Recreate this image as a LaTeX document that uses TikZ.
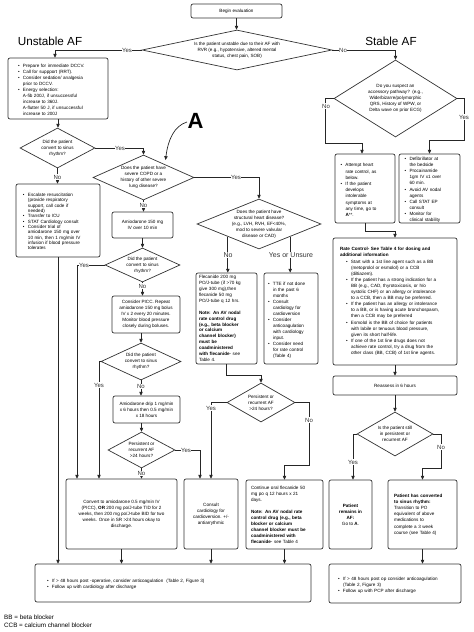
\documentclass[tikz,border=0pt]{standalone}
\usepackage{fontspec}
\setmainfont{Liberation Sans}
\usetikzlibrary{shapes.geometric,arrows.meta}
\newcommand{\fs}{\fontsize{4.6}{6.0}\selectfont}
\newcommand{\bitem}[1]{\par\hangindent=5pt\hangafter=1\noindent\hbox to 5pt{\textbullet\hfil}#1\par}
\newcommand{\bitemx}[1]{\par\leftskip=6pt\hangindent=5pt\hangafter=1\noindent\hbox to 5pt{\textbullet\hfil}#1\par}
\begin{document}
\begin{tikzpicture}[x=1pt,y=-1pt,
  box/.style={draw=black!80, line width=0.7pt, rounded corners=2pt, fill=white, inner sep=0pt, font=\fs, align=center},
  lbox/.style={box, align=left},
  dia/.style={draw=black!80, line width=0.7pt, shape=diamond, inner sep=0pt, fill=white},
  dtxt/.style={font=\fs, align=center, inner sep=0pt},
  arr/.style={draw=black!85, line width=0.7pt, -{Triangle[length=3.8pt,width=3.4pt]}},
  lbl/.style={font=\fontsize{6}{7}\selectfont, fill=white, inner sep=0.6pt, text=black!80},
  lblb/.style={font=\fontsize{7}{8}\selectfont, fill=white, inner sep=0.6pt, text=black!80},
  ttl/.style={font=\fontsize{11.7}{14}\selectfont, inner sep=0pt}
]
\useasboundingbox (0,0) rectangle (474,632);

% titles
\node[ttl] (tU) at (50,41.5) {Unstable AF};
\node[ttl] (tS) at (391,41.5) {Stable AF};
\node[font=\fontsize{22}{24}\selectfont\bfseries, inner sep=0pt] (A) at (195.5,120.5) {A};

% top
\node[box, minimum width=91, minimum height=14] (begin) at (236.5,11) {Begin evaluation};
\node[dia, minimum width=190, minimum height=40] (d1) at (237,50) {};
\node[dtxt] (d1t) at (d1) {Is the patient unstable due to their AF with\\RVR (e.g., hypotensive, altered mental\\status, chest pain, SOB)};

% unstable column
\node[lbox, minimum width=100, minimum height=61, text width=80] (u1) at (58,88.5) {%
\bitem{Prepare for immediate DCCV.}
\bitem{Call for suppport (RRT).}
\bitem{Consider sedation/ analgesia\newline prior to DCCV.}
\bitem{Energy selection:\newline A-fib 200J, if unsuccessful\newline increase to 360J.\newline A-flutter 50 J, if unsuccessful\newline increase to 200J}};
\node[dia, minimum width=75, minimum height=40] (d2) at (57.5,148) {};
\node[dtxt] (d2t) at (d2) {Did the patient\\convert to sinus\\rhythm?};
\node[lbox, minimum width=84, minimum height=73, text width=70, font=\fontsize{4.6}{5.3}\selectfont] (u2) at (58,220.5) {%
\bitem{Escalate resuscitation\newline (provide respiratory\newline support, call code if\newline needed)}
\bitem{Transfer to ICU}
\bitem{STAT Cardiology consult}
\bitem{Consider trial of\newline amiodarone 150 mg over\newline 10 min, then 1 mg/min IV\newline infusion if blood pressure\newline tolerates}};

\node[dia, minimum width=101, minimum height=45] (d3) at (143.5,177.5) {};
\node[dtxt] (d3t) at (d3) {Does the patient have\\severe COPD or a\\history of other severe\\lung disease?};
\node[box, minimum width=61, minimum height=26] (amio1) at (142.5,225) {Amiodarone 150 mg\\IV over 10 min};
\node[dia, minimum width=75, minimum height=34] (d5) at (142.5,265) {};
\node[dtxt] (d5t) at (d5) {Did the patient\\convert to sinus\\rhythm?};
\node[box, minimum width=68, minimum height=37] (picc) at (146,314.5) {Consider PICC. Repeat\\amiodarone 150 mg bolus\\IV x 2 every 20 minutes.\\Monitor blood pressure\\closely during boluses.};
\node[dia, minimum width=80, minimum height=37] (d6) at (141,361.5) {};
\node[dtxt] (d6t) at (d6) {Did the patient\\convert to sinus\\rhythm?};
\node[box, minimum width=67, minimum height=27] (drip) at (146.5,409.5) {Amiodarone drip 1 mg/min\\x 6 hours then 0.5 mg/min\\x 18 hours};
\node[dia, minimum width=67, minimum height=36] (d7) at (141.5,450) {};
\node[dtxt] (d7t) at (d7) {Persistent or\\recurrent AF\\>24 hours?};
\node[box, minimum width=111, minimum height=70] (conv) at (121.5,514) {Convert to amiodarone 0.5 mg/min IV\\(PICC), \textbf{OR} 200 mg po/J-tube TID for 2\\weeks, then 200 mg po/J-tube BID for two\\weeks. Once in SR >24 hours okay to\\discharge.};
\node[box, minimum width=54, minimum height=70] (consult1) at (211,514) {Consult\\cardiology for\\cardioversion. +/-\\antiarrythmic};

% structural heart disease branch
\node[dia, minimum width=124, minimum height=50] (d4) at (259,224) {};
\node[dtxt] (d4t) at (d4) {Does the patient have\\structural heart disease?\\(e.g., LVH, RVH, EF<40\%,\\mod to severe valvular\\disease or CAD)};
\node[lbox, minimum width=61, minimum height=91, text width=55, font=\fontsize{4.6}{5.9}\selectfont] (flec) at (226.5,318.5) {Flecanide 200 mg\newline PO/J-tube (if >70 kg\newline give 300 mg),then\newline flecanide 50 mg\newline PO/J-tube q 12 hrs.\par\vspace{5.9pt}\textbf{Note: An AV nodal\newline rate control drug\newline (e.g., beta blocker\newline or calcium\newline channel blocker)\newline must be\newline coadministered\newline with flecanide}- see\newline Table 4.};
\node[lbox, minimum width=54, minimum height=91, text width=46, font=\fontsize{4.6}{6.0}\selectfont] (tte) at (291,318.5) {%
\bitem{TTE if not done\newline in the past 6\newline months}
\bitem{Consult\newline cardiology for\newline cardioversion}
\bitem{Consider\newline anticoagulation\newline with cardiology\newline input.}
\bitem{Consider need\newline for rate control\newline (Table 4)}};
\node[dia, minimum width=68, minimum height=39] (d8) at (261,402.5) {};
\node[dtxt] (d8t) at (d8) {Persistent or\\recurrent AF\\>24 hours?};
\node[lbox, minimum width=77, minimum height=69, text width=67, font=\fontsize{4.6}{6.0}\selectfont] (cont) at (284.5,514.5) {Continue oral flecanide 50\newline mg po q 12 hours x 21\newline days.\par\vspace{6pt}\textbf{Note: An AV nodal rate\newline control drug (e.g., beta\newline blocker or calcium\newline channel blocker must be\newline coadministered with\newline flecanide}- see Table 4};

% bottom left
\node[lbox, minimum width=276, minimum height=38, text width=252] (bl) at (173,583) {%
\bitem{If > 48 hours post -operative, consider anticoagulation\ \ (Table 2, Figure 3)}
\bitem{Follow up with cardiology after discharge}};

% stable column
\node[dia, minimum width=123, minimum height=77] (d9) at (395.5,98.5) {};
\node[dtxt] (d9t) at (d9) {Do you suspect an\\accessory pathway?\ \ (e.g.,\\Wide/bizarre/polymorphic\\QRS, History of WPW, or\\Delta wave on prior ECG)};
\node[lbox, minimum width=60, minimum height=69, text width=49, font=\fontsize{4.6}{6.2}\selectfont] (att) at (365,188.5) {%
\bitem{Attempt heart\newline rate control, as\newline below.}
\bitem{If the patient\newline develops\newline intolerable\newline symptoms at\newline any time, go to\newline \textbf{A}**.}};
\node[lbox, minimum width=61, minimum height=69, text width=50, font=\fontsize{4.6}{6.1}\selectfont] (defib) at (429.5,188.5) {%
\bitem{Defibrillator at\newline the bedside}
\bitem{Procainamide\newline 1gm IV x1 over\newline 60 min.}
\bitem{Avoid AV nodal\newline agents}
\bitem{Call STAT EP\newline consult}
\bitem{Monitor for\newline clinical stability}};
\node[lbox, minimum width=124, minimum height=127, text width=110, font=\fontsize{4.6}{6.1}\selectfont] (rate) at (395,301.5) {%
\textbf{Rate Control- See Table 4 for dosing and\newline additional information}
\bitemx{Start with a 1st line agent such as a BB\newline (metoprolol or esmolol) or a CCB\newline (diltiazem).}
\bitemx{If the patient has a strong indication for a\newline BB (e.g., CAD, thyrotoxicosis, or h/o\newline systolic CHF) or an allergy or intolerance\newline to a CCB, then a BB may be preferred.}
\bitemx{If the patient has an allergy or intolerance\newline to a BB, or is having acute bronchospasm,\newline then a CCB may be preferred}
\bitemx{Esmolol is the BB of choice for patients\newline with labile or tenuous blood pressure,\newline given its short half-life.}
\bitemx{If one of the 1st line drugs does not\newline achieve rate control, try a drug from the\newline other class (BB, CCB) of 1st line agents.}};
\node[box, minimum width=124, minimum height=19] (reas) at (395,385.5) {Reassess in 6 hours};
\node[dia, minimum width=76, minimum height=44] (d10) at (395,434) {};
\node[dtxt] (d10t) at (d10) {Is the patient still\\in persistent or\\recurrent AF};
\node[box, minimum width=43, minimum height=69] (remains) at (350.5,514.5) {\textbf{Patient}\\\textbf{remains in}\\\textbf{AF:}\\Go to \textbf{A}.};
\node[lbox, minimum width=69, minimum height=69, text width=57, font=\fontsize{4.6}{6.2}\selectfont] (conv2) at (422.5,514.5) {\textbf{Patient has converted\newline to sinus rhythm:}\newline Transition to PO\newline equivalent of above\newline medications to\newline complete a 3 week\newline course (see Table 4)};
\node[lbox, minimum width=132, minimum height=39, text width=114] (br) at (395,583.5) {%
\bitem{If > 48 hours post op consider anticoagulation\newline (Table 2, Figure 3)}
\bitem{Follow up with PCP after discharge}};

% legend
\node[font=\fontsize{6.3}{8}\selectfont, anchor=west, inner sep=0pt] (leg1) at (4,617) {BB = beta blocker};
\node[font=\fontsize{6.3}{8}\selectfont, anchor=west, inner sep=0pt] (leg2) at (4,625.5) {CCB = calcium channel blocker};

% connectors
\draw[arr] (begin.south) -- (begin.south |- d1.north);
\draw[arr] (d1.west) -| ([xshift=-3pt]u1.north);
\draw[arr] (d1.east) -| (d9.north);
\draw[arr] (u1.south) -- (u1.south |- d2.north);
\draw[arr] (d2.east) -| (d3.north);
\draw[arr] (d2.south) -- (d2.south |- u2.north);
\draw[arr] (u2.south) -- (u2.south |- bl.north);
\draw[arr] (d3.east) -| (d4.north);
\draw[arr] (d3.south) -- (d3.south |- amio1.north);
\draw[arr] (amio1.south) -- (amio1.south |- d5.north);
\draw[arr] (d5.west) -| ([xshift=-44.5pt]conv.north);
\draw[arr] (d5.south) -- (d5.south |- picc.north);
\draw[arr] (d6.north |- picc.south) -- (d6.north);
\draw[arr] (d6.west) -| ([xshift=-22.5pt]conv.north);
\draw[arr] (d6.south) -- (d6.south |- drip.north);
\draw[arr] (d7.north |- drip.south) -- (d7.north);
\draw[arr] (d7.east) -| ([xshift=-11pt]consult1.north);
\draw[arr] (d7.south) -- (d7.south |- conv.north);
\draw[arr] (conv.south) -- (conv.south |- bl.north);
\draw[arr] (consult1.south) -- (consult1.south |- bl.north);
\draw[arr] (cont.south) -- (cont.south |- bl.north);
\draw[arr] (d4.south west) -- (d4.south west |- flec.north);
\draw[arr] (d4.south east) -- (d4.south east |- tte.north);
\draw[arr] (flec.south) -- ++(0,11) -| (d8.north);
\draw[arr] (d8.west) -| (consult1.north);
\draw[arr] (d8.east) -- ++(14,0) -- ++(0,62.5) -| (cont.north);
\draw[arr] (d9.west) -- ++(-8,0) -- ++(0,44.5) -| ([xshift=-3pt]att.north);
\draw[arr] (d9.east) -- ++(7,0) -- ++(0,41.5) -| (defib.north);
\draw[arr] (att.south) -- ++(0,8) -| (rate.north);
\draw[arr] (rate.south) -- (rate.south |- reas.north);
\draw[arr] (reas.south) -- (reas.south |- d10.north);
\draw[arr] (d10.west) -| ([xshift=2.5pt]remains.north);
\draw[arr] (d10.east) -- ++(8,0) -- ++(0,34) -| (conv2.north);
\draw[arr] (conv2.south) -- (conv2.south |- br.north);
\coordinate (a1) at (187,122);
\coordinate (a2) at (165.5,160);
\draw[arr] (a1) .. controls (174,126) and (168,140) .. (a2);

% labels
\node[lbl] (l1) at (127,50) {Yes};
\node[lbl] (l2) at (343,50) {No};
\node[lbl] (l3) at (120,148) {Yes};
\node[lbl] (l4) at (57.5,177) {No};
\node[lbl] (l5) at (236,177.5) {Yes};
\node[lbl] (l6) at (143.5,205) {No};
\node[lbl] (l7) at (84,265) {Yes};
\node[lbl] (l8) at (142.5,286) {No};
\node[lbl] (l9) at (99,385) {Yes};
\node[lbl] (l10) at (141,386.5) {No};
\node[lbl] (l11) at (186,450) {Yes};
\node[lbl] (l12) at (141.5,473.5) {No};
\node[lblb] (l13) at (228,255) {No};
\node[lblb] (l14) at (291,255) {Yes or Unsure};
\node[lbl] (l15) at (211,408) {Yes};
\node[lbl] (l16) at (309,420) {No};
\node[lbl] (l17) at (326,106) {No};
\node[lbl] (l18) at (464,117) {Yes};
\node[lbl] (l19) at (353,462) {Yes};
\node[lbl] (l20) at (441,447) {No};
\end{tikzpicture}
\end{document}
